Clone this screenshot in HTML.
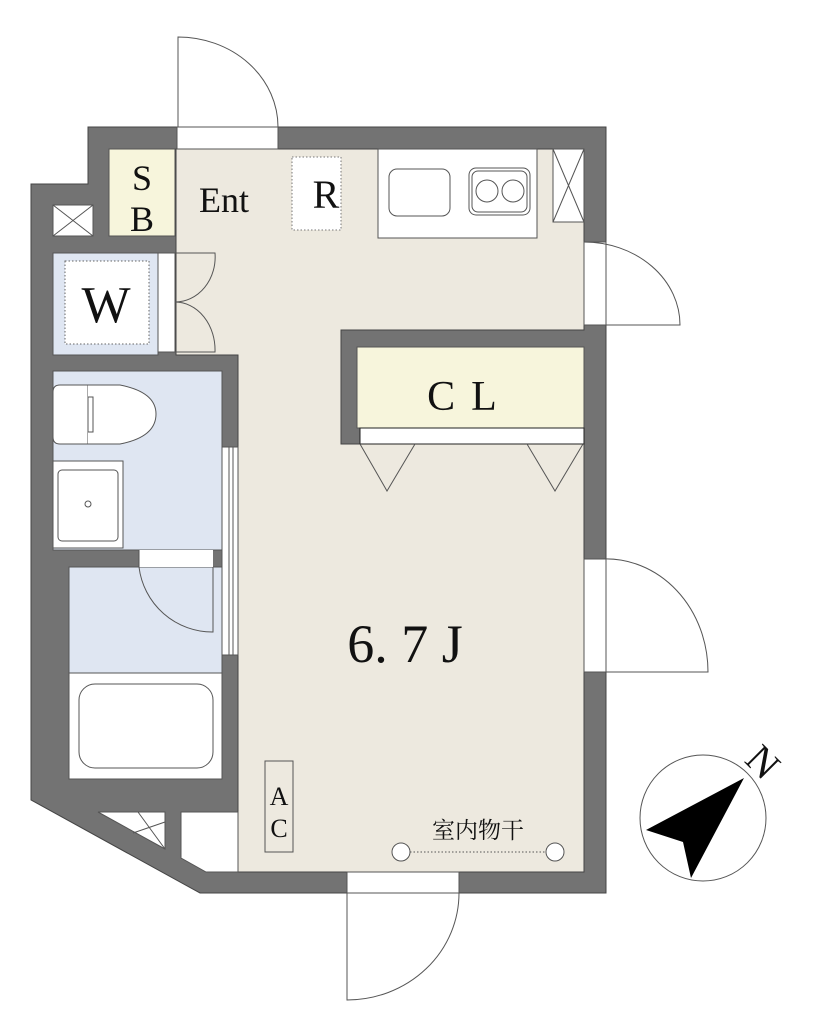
<!DOCTYPE html>
<html><head><meta charset="utf-8"><style>html,body{margin:0;padding:0;background:#fff}svg{display:block}text{font-family:"Liberation Serif","Noto Serif CJK SC",serif;fill:#111}</style></head>
<body>
<svg width="832" height="1024" viewBox="0 0 832 1024" xmlns="http://www.w3.org/2000/svg">
<g stroke="#555" stroke-width="1" fill="none">
<polygon points="88,127 606,127 606,893 200,893 31,800 31,184 88,184" fill="#737373" stroke="#444"/>
<polygon points="176,149 584,149 584,330 341,330 341,444 584,444 584,872 238,872 238,355 176,355" fill="#ede9df" stroke="#444"/>
<rect x="378" y="149" width="159" height="89" fill="#fff"/>
<rect x="389" y="169" width="61" height="47" rx="8"/>
<rect x="469" y="168" width="61" height="47" rx="7"/>
<rect x="472" y="171" width="55" height="41" rx="6"/>
<circle cx="487" cy="191" r="11"/><circle cx="513" cy="191" r="11"/>
<rect x="553" y="149" width="31" height="73" fill="#fff"/>
<path d="M553,149 L584,222 M584,149 L553,222"/>
<rect x="292" y="157" width="49" height="73" fill="#fff" stroke="#777" stroke-dasharray="1.5,2"/>
<rect x="109" y="149" width="66" height="87" fill="#f7f5dc"/>
<rect x="53" y="205" width="40" height="31" fill="#fff"/>
<path d="M53,205 L93,236 M93,205 L53,236"/>
<rect x="53" y="253" width="105" height="102" fill="#dfe6f2"/>
<rect x="65" y="261" width="84" height="83" fill="#fff" stroke="#666" stroke-dasharray="1.5,2"/>
<rect x="158" y="253" width="17" height="99" fill="#fff"/>
<path d="M175,253 L215,253 A40,45 0 0 1 175,302 M175,352 L215,352 A40,48 0 0 0 175,302"/>
<rect x="53" y="371" width="169" height="179" fill="#dfe6f2"/>
<path d="M60,385 L88,385 L88,444 L60,444 Q53,444 53,437 L53,392 Q53,385 60,385 Z" fill="#fff"/>
<path d="M88,385 L120,385 Q156,392 156,414 Q156,437 120,444 L88,444" fill="#fff"/>
<rect x="88" y="397" width="5" height="35" fill="#fff"/>
<rect x="53" y="461" width="70" height="87" fill="#fff"/>
<rect x="58" y="470" width="60" height="71" rx="4"/>
<circle cx="88" cy="504" r="3"/>
<rect x="222" y="447" width="16" height="208" fill="#fff"/>
<path d="M229,447 L229,655 M233,447 L233,655"/>
<rect x="69" y="567" width="153" height="106" fill="#dfe6f2"/>
<rect x="139" y="550" width="74" height="17" fill="#fff" stroke="none"/>
<path d="M139,550 L139,567 A74,74 0 0 0 213,632 L213,567"/>
<rect x="69" y="673" width="153" height="106" fill="#fff"/>
<rect x="79" y="684" width="134" height="84" rx="16"/>
<polygon points="98,812 165,812 165,849" fill="#fff"/>
<path d="M138,812 L165,849 M165,822 L133,833"/>
<polygon points="181,812 238,812 238,872 206,872 181,858" fill="#fff"/>
<rect x="357" y="347" width="227" height="81" fill="#f7f5dc"/>
<rect x="360" y="428" width="224" height="16" fill="#fff" stroke="#222"/>
<path d="M360,444 L387,491 L415,444 M527,444 L555,491 L583,444"/>
<rect x="265" y="761" width="28" height="91"/>
<rect x="177" y="127" width="101" height="22" fill="#fff"/>
<path d="M178,127 L178,37 A100,90 0 0 1 278,127"/>
<rect x="584" y="242" width="22" height="83" fill="#fff"/>
<path d="M584,325 L680,325 A96,83 0 0 0 584,242"/>
<rect x="584" y="559" width="22" height="113" fill="#fff"/>
<path d="M606,672 L708,672 A102,113 0 0 0 602,559"/>
<rect x="347" y="872" width="112" height="21" fill="#fff"/>
<path d="M347,893 L347,1000 A112,107 0 0 0 459,893"/>
<circle cx="401" cy="852" r="9" fill="#fff"/><circle cx="555" cy="852" r="9" fill="#fff"/>
<path d="M410,852 L546,852" stroke-dasharray="1.5,2"/>
<circle cx="703" cy="818" r="63"/>
</g>
<polygon points="744,778 646,830 683,842 691,878" fill="#000"/>
<text x="762" y="775" font-size="40" text-anchor="middle" transform="rotate(45 762 763)">N</text>
<text x="142" y="190" font-size="36" text-anchor="middle">S</text>
<text x="142" y="231" font-size="36" text-anchor="middle">B</text>
<text x="224" y="212" font-size="36" text-anchor="middle">Ent</text>
<text x="326" y="208" font-size="40" text-anchor="middle">R</text>
<text x="106" y="322" font-size="52" text-anchor="middle">W</text>
<text x="470" y="410" font-size="42" text-anchor="middle" letter-spacing="16">CL</text>
<text x="405" y="662" font-size="54" text-anchor="middle">6. 7 J</text>
<text x="279" y="805" font-size="26" text-anchor="middle">A</text>
<text x="279" y="837" font-size="26" text-anchor="middle">C</text>
<text x="478" y="838" font-size="23" text-anchor="middle">室内物干</text>
</svg>
</body></html>
